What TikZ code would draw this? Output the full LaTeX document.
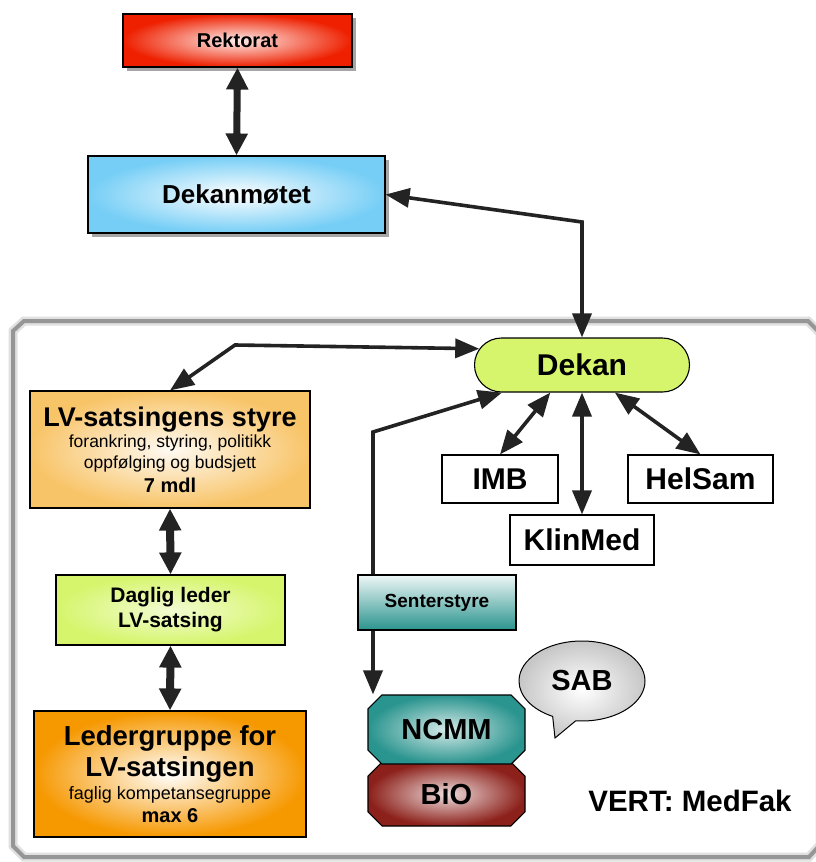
\documentclass[tikz,border=0pt]{standalone}
\usepackage{fontspec}
\setmainfont{Liberation Sans}
\usetikzlibrary{arrows.meta,shapes.misc,shapes.callouts,shadows,calc}
\definecolor{arr}{RGB}{35,35,35}
\definecolor{rektred}{RGB}{238,32,0}
\definecolor{dmblue}{RGB}{118,206,246}
\definecolor{dekgreen}{RGB}{214,245,108}
\definecolor{lvorange}{RGB}{248,196,104}
\definecolor{ldorange}{RGB}{246,152,0}
\definecolor{teal}{RGB}{42,148,142}
\definecolor{bio}{RGB}{140,32,26}
\definecolor{frame}{RGB}{150,150,150}
\newcommand{\myfs}[2]{\fontsize{#1pt}{#2pt}\selectfont\spaceskip=0.278em\xspaceskip=0.278em\relax}
\tikzset{
  box/.style={draw=black, line width=1.1pt, inner sep=0pt, align=center},
  shad/.style={drop shadow={shadow xshift=4pt, shadow yshift=-4pt, opacity=0.35, fill=black}},
  plain/.style={box, fill=white, font=\myfs{30}{34}\bfseries},
  link/.style={draw=arr, line width=3.6pt, {Triangle[length=24pt,width=19pt]}-{Triangle[length=24pt,width=19pt]}},
  fatlink/.style={draw=arr, line width=7pt, {Triangle[length=22pt,width=21pt]}-{Triangle[length=22pt,width=21pt]}},
}
\begin{document}
\begin{tikzpicture}[x=1pt,y=-1pt]
\useasboundingbox (0,0) rectangle (816,862);
% container
\draw[line width=9pt, draw=black!12, line join=miter]
  (13,331) -- (24,321) -- (808,321) -- (820,333) -- (820,845) -- (809,857) -- (24,857) -- (13,846) -- cycle;
\draw[line width=4pt, draw=frame, line join=miter]
  (13,331) -- (24,321) -- (808,321) -- (820,333) -- (820,845) -- (809,857) -- (24,857) -- (13,846) -- cycle;

% nodes
\node[box, shad, minimum width=229pt, minimum height=53pt, inner color=rektred!8, outer color=rektred, font=\myfs{20}{24}\bfseries]
  (rekt) at (237.5,40.5) {Rektorat};
\node[box, shad, minimum width=297pt, minimum height=77pt, inner color=white, outer color=dmblue, font=\myfs{26}{30}\bfseries]
  (dm) at (236.5,194.5) {Dekanm\o tet};
\node[draw=black, line width=1.1pt, rounded rectangle, fill=dekgreen, minimum width=215pt, minimum height=54pt, inner sep=0pt, font=\myfs{30}{34}\bfseries]
  (dekan) at (582,365) {Dekan};
\node[plain, minimum width=116pt, minimum height=48pt] (imb) at (500,479) {IMB};
\node[plain, minimum width=144pt, minimum height=50pt] (klin) at (582,540) {KlinMed};
\node[plain, minimum width=145pt, minimum height=48pt] (hel) at (700.5,479) {HelSam};

\node[box, text width=270pt, minimum width=280pt, minimum height=117pt, inner color=white!60!lvorange!20, outer color=lvorange]
  (lv) at (170,449.5) {{\myfs{27}{28}\bfseries LV-satsingens styre\par}
  {\myfs{17.5}{21}forankring, styring, politikk\par}
  {\myfs{17.5}{21}oppf\o lging og budsjett\par}
  {\myfs{20}{24}\bfseries 7 mdl\par}};
\node[box, minimum width=229pt, minimum height=70pt, inner color=white!70!dekgreen, outer color=dekgreen, font=\myfs{21}{25}\bfseries]
  (dag) at (170.5,610) {Daglig leder\\LV-satsing};
\node[box, text width=268pt, minimum width=272pt, minimum height=126pt, inner color=white, outer color=ldorange]
  (led) at (170,774) {{\myfs{27.5}{31}\bfseries Ledergruppe for\par}
  {\myfs{27.5}{31}\bfseries LV-satsingen\par}
  {\myfs{18}{23}faglig kompetansegruppe\par}
  {\myfs{20}{23}\bfseries max 6\par}};

\node[draw=black, line width=1.1pt, chamfered rectangle, chamfered rectangle xsep=12pt, minimum width=157pt, minimum height=64pt, inner sep=0pt, inner color=bio!15, outer color=bio, font=\myfs{29}{33}\bfseries]
  (bio) at (446.5,794) {BiO};
\node[draw=black, line width=1.1pt, chamfered rectangle, chamfered rectangle xsep=12pt, minimum width=157pt, minimum height=69pt, inner sep=0pt, inner color=teal!20, outer color=teal, font=\myfs{29}{33}\bfseries]
  (ncmm) at (446.5,729.5) {NCMM};

\node[draw=black, line width=1pt, ellipse callout, callout absolute pointer={(555,738)}, callout pointer arc=22,
  minimum width=126pt, minimum height=80pt, inner sep=0pt, inner color=white, outer color=black!22, font=\myfs{29}{33}\bfseries]
  (sab) at (582,681) {SAB};

\node[font=\myfs{29.5}{33}\bfseries] (vert) at (690,801) {VERT: MedFak};

% connectors
\draw[fatlink] (rekt.south) -- (dm.north);
\coordinate (c1) at (582,222);
\draw[link, line join=miter] (dm.east) -- (c1) -- (dekan.north);
\coordinate (c2) at (235,345);
\draw[link, line join=miter] (lv.north) -- (c2) -- (dekan.171);
\draw[link] (dekan.221) -- (imb.north);
\draw[link] (dekan.south) -- (klin.north);
\draw[link] (dekan.320) -- (hel.north);
\draw[fatlink, line width=8pt] (lv.south) -- (dag.north);
\draw[fatlink, line width=8pt] (dag.south) -- (led.north);
\coordinate (s1) at (373,432);
\draw[link, line join=miter] (dekan.199) -- (s1) -- (s1 |- ncmm.north);

\node[box, minimum width=158pt, minimum height=55pt, top color=teal!8, bottom color=teal, font=\myfs{19}{23}\bfseries]
  (sen) at (437,602.5) {Senterstyre};
\end{tikzpicture}
\end{document}
